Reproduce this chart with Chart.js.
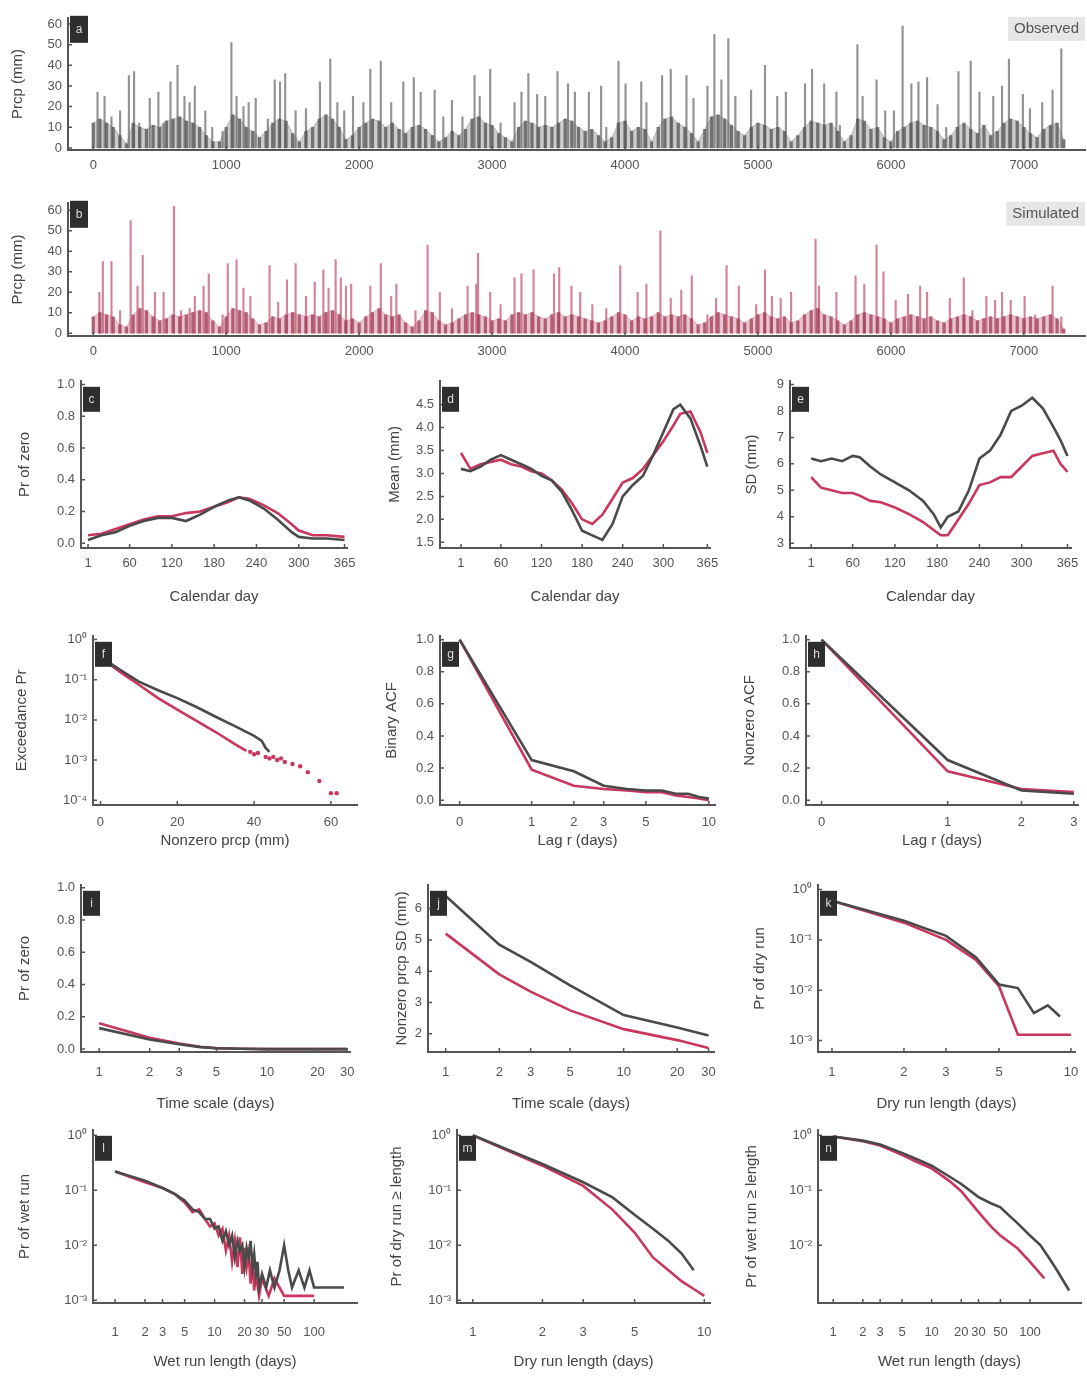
<!DOCTYPE html>
<html>
<head>
<meta charset="utf-8">
<title>Observed vs simulated precipitation</title>
<script src="https://cdn.jsdelivr.net/npm/chart.js@4.4.1/dist/chart.umd.min.js"></script>
<style>
  html, body { margin: 0; background: #fff; }
  #fig { position: relative; width: 1087px; height: 1380px; overflow: hidden; }
</style>
</head>
<body>
<div id="fig"></div>
<script>
/* Precipitation figure: panels a-n */

// ---- a/b: daily series (tall spikes + dense band, band step = 50 days) ----
const dayTicks = [0, 1000, 2000, 3000, 4000, 5000, 6000, 7000];
const prcpTicks = [0, 10, 20, 30, 40, 50, 60];
const bandStep = 50;

const obsPeakDay = [32,85,137,202,268,307,346,425,490,529,581,634,686,725,764,843,895,973,1039,1078,
  1130,1169,1222,1313,1365,1405,1444,1522,1600,1705,1783,1836,1888,1954,2032,2084,2163,2241,2332,2411,
  2463,2568,2633,2698,2777,2868,2907,2986,3064,3169,3221,3273,3339,3400,3492,3571,3623,3728,3820,3859,
  3951,4004,4122,4161,4279,4344,4462,4515,4620,4672,4725,4777,4830,4948,5053,5145,5210,5354,5407,5498,
  5590,5616,5748,5787,5892,5957,6023,6088,6154,6207,6272,6351,6416,6508,6600,6666,6770,6836,6888,6993,
  7046,7138,7216,7282];
const obsPeak = [27,25,15,18,35,37,12,24,27,12,32,40,25,22,30,18,10,8,51,25,
  20,22,24,14,33,32,36,18,19,32,43,22,18,25,22,38,42,22,32,34,
  27,28,15,23,15,35,25,38,12,22,27,36,26,25,37,31,27,27,30,10,
  42,31,32,22,35,38,35,24,30,55,33,53,25,28,40,25,27,31,38,31,
  27,11,50,25,33,18,18,59,31,32,34,21,10,37,42,27,25,30,43,26,
  19,22,28,48];
const obsBand = [
  12,14,12,10,6,2,12,10,9,11,10,13,14,15,13,12,10,6,3,3,
  10,16,14,10,8,5,8,12,14,13,7,3,8,10,14,16,14,10,4,6,
  10,12,14,13,10,12,9,7,10,11,9,6,3,5,8,6,9,14,15,12,
  11,7,5,3,10,13,12,10,11,10,12,14,13,10,8,9,6,3,5,12,
  13,8,10,9,3,10,14,15,12,10,7,3,9,15,16,14,11,8,6,10,
  12,11,9,10,8,3,6,10,13,12,11,12,8,3,6,14,13,9,10,5,
  3,8,10,12,13,11,10,8,4,6,10,12,9,7,11,6,8,12,14,13,
  10,7,5,9,11,12,4];

const simPeakDay = [46,72,137,202,281,333,372,464,529,607,660,725,764,830,869,973,1012,1078,1130,1182,
  1326,1391,1457,1522,1600,1666,1731,1770,1823,1862,1901,1940,2084,2163,2241,2280,2424,2515,2607,2698,
  2816,2881,2894,2986,3064,3169,3221,3312,3466,3505,3597,3663,3754,3859,3964,4095,4161,4266,4344,4423,
  4502,4620,4685,4764,4856,4987,5053,5105,5171,5249,5433,5459,5590,5734,5800,5892,5944,6036,6128,6220,
  6272,6443,6548,6613,6718,6784,6836,6901,7006,7085,7216,7282];
const simPeak = [20,35,35,11,55,23,38,20,20,62,11,12,18,23,29,9,34,36,22,18,
  33,15,26,34,18,25,31,22,36,27,23,24,23,34,18,24,11,43,20,12,
  23,24,39,20,14,27,29,31,29,32,23,20,14,12,33,20,24,50,17,21,
  28,9,17,33,23,14,31,18,17,20,46,23,20,28,24,43,30,16,19,23,
  20,17,27,11,18,16,20,16,18,9,23,8];
const simBand = [
  8,10,9,8,4,3,9,12,11,8,6,7,9,8,9,10,11,10,6,3,
  8,12,11,10,7,4,5,8,7,9,10,9,8,9,8,10,11,9,6,7,
  5,8,10,12,9,8,9,5,3,6,11,10,6,4,5,7,9,10,9,8,
  6,7,6,9,10,9,10,8,7,9,10,8,9,8,7,6,5,6,8,10,
  9,6,8,7,8,10,8,9,8,9,7,4,5,8,10,9,8,7,5,7,
  9,10,8,7,8,5,6,9,11,12,9,8,6,4,6,9,10,9,8,7,
  5,7,8,9,8,7,8,6,5,7,8,9,8,6,7,8,7,8,9,8,
  7,8,7,8,9,7,2];

// ---- c/d/e: calendar-day statistics ----
const calTicks = [1, 60, 120, 180, 240, 300, 365];
const probTicks = [0, 0.2, 0.4, 0.6, 0.8, 1.0];
const cDays = [1,20,40,60,80,100,120,140,160,180,200,215,230,250,270,290,300,320,340,365];
const cObs = [0.02,0.05,0.07,0.11,0.14,0.16,0.16,0.14,0.18,0.23,0.27,0.29,0.27,0.22,0.15,0.07,0.04,0.03,0.03,0.02];
const cSim = [0.05,0.06,0.09,0.12,0.15,0.17,0.17,0.19,0.20,0.23,0.26,0.29,0.28,0.24,0.19,0.12,0.08,0.05,0.05,0.04];
const meanTicks = [1.5, 2.0, 2.5, 3.0, 3.5, 4.0, 4.5];
const dDays = [1,15,30,45,60,75,90,105,120,135,150,165,180,195,210,225,240,255,270,285,300,315,325,340,355,365];
const dObs = [3.1,3.05,3.15,3.3,3.4,3.3,3.2,3.1,2.95,2.85,2.6,2.2,1.75,1.65,1.55,1.9,2.5,2.75,2.95,3.4,3.9,4.4,4.5,4.2,3.6,3.15];
const dSim = [3.45,3.1,3.2,3.25,3.3,3.2,3.15,3.05,3.0,2.85,2.65,2.35,2.0,1.9,2.1,2.45,2.8,2.9,3.1,3.4,3.7,4.05,4.3,4.35,3.9,3.45];
const sdTicks = [3, 4, 5, 6, 7, 8, 9];
const eDays = [1,15,30,45,60,70,85,100,120,140,160,175,185,195,210,225,240,255,270,285,300,315,330,345,355,365];
const eObs = [6.2,6.1,6.2,6.1,6.3,6.25,5.9,5.6,5.3,5.0,4.6,4.1,3.6,4.0,4.2,5.0,6.2,6.5,7.1,8.0,8.2,8.5,8.1,7.4,6.9,6.3];
const eSim = [5.5,5.1,5.0,4.9,4.9,4.8,4.6,4.55,4.35,4.1,3.8,3.5,3.3,3.3,3.9,4.5,5.2,5.3,5.5,5.5,5.9,6.3,6.4,6.5,6.0,5.7];

// ---- f: exceedance ----
const fxTicks = [0, 20, 40, 60];
const logTicks4 = [1, 0.1, 0.01, 0.001, 0.0001];
const fObsX = [0,2,5,10,15,20,25,30,35,40,42,43,44];
const fObs = [0.35,0.28,0.18,0.09,0.055,0.035,0.021,0.012,0.007,0.004,0.003,0.002,0.0016];
const fSimX = [0,2,5,10,15,20,25,30,35,38];
const fSim = [0.35,0.26,0.16,0.075,0.035,0.018,0.0095,0.005,0.0025,0.0017];
const fDotX = [39,40,41,43,44,45,46,47,48,50,52,54,57,60,61.5];
const fDot = [0.0016,0.0014,0.0015,0.0012,0.0011,0.0012,0.001,0.0011,0.0009,0.0008,0.0007,0.0005,0.0003,0.00015,0.00015];

// ---- g/h: autocorrelation ----
const gLagTicks = [0, 1, 2, 3, 5, 10];
const gLag = [0,1,2,3,4,5,6,7,8,9,10];
const gObs = [1.0,0.25,0.18,0.09,0.07,0.06,0.06,0.04,0.04,0.02,0.01];
const gSim = [1.0,0.19,0.09,0.07,0.06,0.05,0.05,0.03,0.02,0.01,0.0];
const hLagTicks = [0, 1, 2, 3];
const hLag = [0,1,2,3];
const hObs = [1.0,0.25,0.06,0.04];
const hSim = [1.0,0.18,0.07,0.05];

// ---- i/j: aggregation time scale ----
const scaleTicks = [1, 2, 3, 5, 10, 20, 30];
const iScale = [1,2,3,4,5,7,10,15,20,30];
const iObs = [0.13,0.06,0.03,0.012,0.005,0.002,0,0,0,0];
const iSim = [0.16,0.07,0.035,0.015,0.006,0.002,0,0,0,0];
const jyTicks = [2, 3, 4, 5, 6];
const jScale = [1,2,3,5,10,20,30];
const jObs = [6.4,4.85,4.3,3.55,2.6,2.2,1.95];
const jSim = [5.2,3.9,3.35,2.75,2.15,1.8,1.55];

// ---- k/m: dry runs, l/n: wet runs ----
const runTicks10 = [1, 2, 3, 5, 10];
const runTicks100 = [1, 2, 3, 5, 10, 20, 30, 50, 100];
const logTicks3 = [1, 0.1, 0.01, 0.001];
const logTicks2 = [1, 0.1, 0.01];
const kObsLen = [1,2,3,4,5,6,7,8,9];
const kObs = [0.6,0.24,0.12,0.045,0.013,0.011,0.0035,0.005,0.003];
const kSimLen = [1,2,3,4,5,6,7,8,9,10];
const kSim = [0.6,0.22,0.1,0.04,0.012,0.0013,0.0013,0.0013,0.0013,0.0013];
const lObsLen = [1,2,3,4,5,6,7,8,9,10,11,12,13,14,15,16,17,18,19,20,21,22,23,24,25,26,27,28,30,33,36,40,45,50,55,60,70,80,90,100,200];
const lObs = [0.22,0.15,0.11,0.085,0.065,0.045,0.04,0.03,0.03,0.02,0.022,0.012,0.018,0.01,0.015,0.006,0.012,0.008,0.01,0.004,
  0.009,0.006,0.012,0.004,0.007,0.003,0.005,0.0017,0.003,0.0017,0.0035,0.0017,0.0035,0.01,0.0035,0.0017,0.0035,0.0017,0.0035,0.0017,0.0017];
const lSimLen = [1,2,3,4,5,6,7,8,9,10,11,12,13,14,15,16,17,18,19,20,21,22,23,24,25,26,28,30,35,40,50,60,80,100];
const lSim = [0.22,0.14,0.11,0.085,0.06,0.04,0.045,0.03,0.022,0.025,0.015,0.02,0.008,0.015,0.005,0.012,0.004,0.014,0.003,0.009,
  0.004,0.007,0.002,0.006,0.0015,0.003,0.0012,0.0025,0.0012,0.0025,0.0012,0.0012,0.0012,0.0012];
const mObsLen = [1,2,3,4,5,6,7,8,9];
const mObs = [1.0,0.3,0.14,0.075,0.036,0.02,0.012,0.007,0.0035];
const mSimLen = [1,2,3,4,5,6,7,8,9,10];
const mSim = [1.0,0.28,0.12,0.045,0.017,0.006,0.0035,0.0022,0.0016,0.0012];
const nObsLen = [1,2,3,5,7,10,15,20,30,40,50,60,75,100,128,160,190,250];
const nObs = [0.95,0.8,0.68,0.48,0.37,0.28,0.18,0.13,0.075,0.058,0.049,0.036,0.025,0.015,0.01,0.0055,0.0034,0.0015];
const nSimLen = [1,2,3,5,7,10,15,20,30,40,50,75,100,140];
const nSim = [0.95,0.78,0.65,0.44,0.33,0.25,0.15,0.096,0.04,0.022,0.015,0.0087,0.005,0.0025];

const GRAY = '#4a4a4a';
const RED = '#c9375d';

Chart.defaults.font.family = "'Liberation Sans', Arial, sans-serif";
Chart.defaults.color = '#555';

const xy = (xs, ys) => xs.map((x, i) => ({ x, y: ys[i] }));
const lagU = r => Math.log10(1 + r);
const SUP = { '-': '\u207b', '0': '\u2070', '1': '\u00b9', '2': '\u00b2', '3': '\u00b3', '4': '\u2074' };
const sup = v => '10' + String(Math.round(Math.log10(v))).split('').map(c => SUP[c]).join('');
const fix1 = v => Number(v).toFixed(1);
const plain = v => String(v);

const line = (xs, ys, color) => ({
  data: xy(xs, ys), borderColor: color, borderWidth: 2.6,
  pointRadius: 0, tension: 0, fill: false
});

// inward tick marks, panel letter box, Observed/Simulated tag
const deco = {
  id: 'deco',
  afterDraw(chart, args, o) {
    const { ctx, chartArea: ca, scales } = chart;
    ctx.save();
    ctx.strokeStyle = '#555';
    ctx.lineWidth = 1.5;
    ctx.beginPath();
    scales.x.ticks.forEach((t, i) => {
      const px = scales.x.getPixelForTick(i);
      ctx.moveTo(px, ca.bottom); ctx.lineTo(px, ca.bottom - 4);
    });
    scales.y.ticks.forEach((t, i) => {
      const py = scales.y.getPixelForTick(i);
      ctx.moveTo(ca.left, py); ctx.lineTo(ca.left + 4, py);
    });
    ctx.stroke();

    if (o.letter) {
      const w = o.bw || 17, h = o.bh || 25;
      const x0 = ca.left + 2, y0 = ca.top + (o.dy ?? 6);
      ctx.fillStyle = '#2e2e2e';
      ctx.fillRect(x0, y0, w, h);
      ctx.fillStyle = '#dddddd';
      ctx.font = "12px 'Liberation Sans', Arial";
      ctx.textAlign = 'center';
      ctx.textBaseline = 'middle';
      ctx.fillText(o.letter, x0 + w / 2, y0 + h / 2);
    }
    if (o.tag) {
      ctx.font = "15px 'Liberation Sans', Arial";
      const tw = ctx.measureText(o.tag).width + 12;
      ctx.fillStyle = '#e6e6e6';
      ctx.fillRect(ca.right - tw, ca.top - 1, tw, 24);
      ctx.fillStyle = '#555';
      ctx.textAlign = 'center';
      ctx.textBaseline = 'middle';
      ctx.fillText(o.tag, ca.right - tw / 2, ca.top + 11);
    }
    ctx.restore();
  }
};

const axis = (cfg, which, size, pad) => ({
  type: cfg.type || 'linear',
  min: cfg.min,
  max: cfg.max,
  offset: false,
  afterFit: s => { if (which === 'x') s.height = size; else s.width = size; },
  afterBuildTicks: s => { s.ticks = cfg.ticks.map(v => ({ value: v })); },
  grid: { display: false, drawTicks: false },
  border: { display: true, color: '#555', width: 2 },
  ticks: {
    padding: pad, autoSkip: false, maxRotation: 0, minRotation: 0,
    color: '#555', font: { size: 13 },
    callback: v => (cfg.fmt || plain)(v)
  },
  title: { display: !!cfg.title, text: cfg.title || '', color: '#444', font: { size: 15 }, padding: 0 }
});

const panel = (p) => {
  const bx = p.box;
  const left = bx.yt - 9;
  const top = bx.t - 6;
  const right = bx.r + 20;
  const bottom = bx.xt ? bx.xt + 9 : bx.b + 26;
  const W = right - left, H = bottom - top;
  const cv = document.createElement('canvas');
  cv.width = W; cv.height = H;
  cv.style.cssText = `position:absolute;left:${left}px;top:${top}px;width:${W}px;height:${H}px`;
  document.getElementById('fig').appendChild(cv);
  new Chart(cv, {
    type: p.type || 'line',
    data: { datasets: p.datasets },
    options: {
      responsive: false,
      animation: false,
      layout: { padding: { top: 6, right: 20, left: 0, bottom: 0 } },
      plugins: {
        legend: { display: false },
        tooltip: { enabled: false },
        deco: { letter: p.letter, tag: p.tag, dy: p.dy, bw: p.bw, bh: p.bh }
      },
      scales: {
        x: axis(p.x, 'x', bottom - bx.b, bx.tp),
        y: axis(p.y, 'y', bx.l - left, 6)
      }
    },
    plugins: [deco]
  });
};

// spikes drawn as thin bars; the dense lower part as a light area plus striped bars
const seriesPanel = (box, letter, tag, peakDay, peak, band, areaColor, stripeColor, peakColor, ymin, ymax) => panel({
  type: 'bar', box, letter, tag, dy: -2, bw: 18, bh: 27,
  x: { min: -190, max: 7460, ticks: dayTicks },
  y: { min: ymin, max: ymax, ticks: prcpTicks, title: 'Prcp (mm)' },
  datasets: [
    { type: 'line', data: band.map((v, i) => ({ x: i * bandStep, y: v })),
      borderColor: areaColor, borderWidth: 1, backgroundColor: areaColor,
      fill: 'origin', pointRadius: 0, tension: 0 },
    { type: 'bar', data: band.map((v, i) => ({ x: i * bandStep, y: v })),
      backgroundColor: stripeColor, barThickness: 2.6, grouped: false },
    { type: 'bar', data: xy(peakDay, peak), backgroundColor: peakColor,
      barThickness: 1.5, grouped: false }
  ]
});

seriesPanel({ l: 68, r: 1085, t: 10, b: 150, yt: 18, tp: 8 }, 'a', 'Observed',
  obsPeakDay, obsPeak, obsBand, 'rgba(110,110,110,0.35)', 'rgba(70,70,70,0.75)', 'rgba(120,120,120,0.8)', -1, 63);
seriesPanel({ l: 68, r: 1085, t: 195, b: 336, yt: 18, tp: 8 }, 'b', 'Simulated',
  simPeakDay, simPeak, simBand, 'rgba(190,90,115,0.35)', 'rgba(140,45,70,0.75)', 'rgba(205,110,135,0.85)', -1.4, 63.7);

panel({
  box: { l: 81, r: 347, t: 373, b: 548, yt: 25, xt: 597, tp: 8 }, letter: 'c',
  x: { min: -9, max: 368.5, ticks: calTicks, title: 'Calendar day' },
  y: { min: -0.03, max: 1.024, ticks: probTicks, fmt: fix1, title: 'Pr of zero' },
  datasets: [line(cDays, cObs, GRAY), line(cDays, cSim, RED)]
});
panel({
  box: { l: 440, r: 710, t: 373, b: 548, yt: 395, xt: 597, tp: 8 }, letter: 'd',
  x: { min: -30, max: 369, ticks: calTicks, title: 'Calendar day' },
  y: { min: 1.375, max: 5.02, ticks: meanTicks, fmt: fix1, title: 'Mean (mm)' },
  datasets: [line(dDays, dObs, GRAY), line(dDays, dSim, RED)]
});
panel({
  box: { l: 790, r: 1071, t: 373, b: 548, yt: 752, xt: 597, tp: 8 }, letter: 'e',
  x: { min: -29, max: 370, ticks: calTicks, title: 'Calendar day' },
  y: { min: 2.82, max: 9.14, ticks: sdTicks, title: 'SD (mm)' },
  datasets: [line(eDays, eObs, GRAY), line(eDays, eSim, RED)]
});

panel({
  box: { l: 93, r: 357, t: 628, b: 805, yt: 22, xt: 841, tp: 10 }, letter: 'f',
  x: { min: -1.95, max: 66.8, ticks: fxTicks, title: 'Nonzero prcp (mm)' },
  y: { type: 'logarithmic', min: 7.6e-5, max: 1.245, ticks: logTicks4, fmt: sup, title: 'Exceedance Pr' },
  datasets: [
    line(fObsX, fObs, GRAY),
    line(fSimX, fSim, RED),
    { data: xy(fDotX, fDot), showLine: false, pointRadius: 2.2, pointBorderWidth: 0,
      pointBackgroundColor: RED, borderColor: RED }
  ]
});
panel({
  box: { l: 440, r: 715, t: 628, b: 805, yt: 392, xt: 841, tp: 10 }, letter: 'g',
  x: { min: -0.082, max: 1.067, ticks: gLagTicks.map(lagU), fmt: v => String(Math.round(10 ** v - 1)), title: 'Lag r (days)' },
  y: { min: -0.03, max: 1.024, ticks: probTicks, fmt: fix1, title: 'Binary ACF' },
  datasets: [line(gLag.map(lagU), gObs, GRAY), line(gLag.map(lagU), gSim, RED)]
});
panel({
  box: { l: 806, r: 1078, t: 628, b: 805, yt: 750, xt: 841, tp: 10 }, letter: 'h',
  x: { min: -0.037, max: 0.612, ticks: hLagTicks.map(lagU), fmt: v => String(Math.round(10 ** v - 1)), title: 'Lag r (days)' },
  y: { min: -0.03, max: 1.024, ticks: probTicks, fmt: fix1, title: 'Nonzero ACF' },
  datasets: [line(hLag.map(lagU), hObs, GRAY), line(hLag.map(lagU), hSim, RED)]
});

panel({
  box: { l: 81, r: 350, t: 877, b: 1052, yt: 25, xt: 1104, tp: 13 }, letter: 'i',
  x: { type: 'logarithmic', min: 0.78, max: 31.2, ticks: scaleTicks, title: 'Time scale (days)' },
  y: { min: -0.018, max: 1.018, ticks: probTicks, fmt: fix1, title: 'Pr of zero' },
  datasets: [line(iScale, iObs, GRAY), line(iScale, iSim, RED)]
});
panel({
  box: { l: 428, r: 714, t: 877, b: 1052, yt: 402, xt: 1104, tp: 13 }, letter: 'j',
  x: { type: 'logarithmic', min: 0.795, max: 32.2, ticks: scaleTicks, title: 'Time scale (days)' },
  y: { min: 1.42, max: 6.76, ticks: jyTicks, title: 'Nonzero prcp SD (mm)' },
  datasets: [line(jScale, jObs, GRAY), line(jScale, jSim, RED)]
});
panel({
  box: { l: 818, r: 1075, t: 877, b: 1052, yt: 760, xt: 1104, tp: 13 }, letter: 'k',
  x: { type: 'logarithmic', min: 0.874, max: 10.4, ticks: runTicks10, title: 'Dry run length (days)' },
  y: { type: 'logarithmic', min: 5.9e-4, max: 1.245, ticks: logTicks3, fmt: sup, title: 'Pr of dry run' },
  datasets: [line(kObsLen, kObs, GRAY), line(kSimLen, kSim, RED)]
});

panel({
  box: { l: 93, r: 357, t: 1122, b: 1303, yt: 25, xt: 1362, tp: 22 }, letter: 'l',
  x: { type: 'logarithmic', min: 0.6, max: 270, ticks: runTicks100, title: 'Wet run length (days)' },
  y: { type: 'logarithmic', min: 8.9e-4, max: 1.26, ticks: logTicks3, fmt: sup, title: 'Pr of wet run' },
  datasets: [line(lObsLen, lObs, GRAY), line(lSimLen, lSim, RED)]
});
panel({
  box: { l: 457, r: 714, t: 1122, b: 1303, yt: 397, xt: 1362, tp: 22 }, letter: 'm',
  x: { type: 'logarithmic', min: 0.855, max: 10.6, ticks: runTicks10, title: 'Dry run length (days)' },
  y: { type: 'logarithmic', min: 8.9e-4, max: 1.26, ticks: logTicks3, fmt: sup, title: 'Pr of dry run \u2265 length' },
  datasets: [line(mObsLen, mObs, GRAY), line(mSimLen, mSim, RED)]
});
panel({
  box: { l: 818, r: 1081, t: 1122, b: 1303, yt: 752, xt: 1362, tp: 22 }, letter: 'n',
  x: { type: 'logarithmic', min: 0.705, max: 330, ticks: runTicks100, title: 'Wet run length (days)' },
  y: { type: 'logarithmic', min: 8.9e-4, max: 1.26, ticks: logTicks2, fmt: sup, title: 'Pr of wet run \u2265 length' },
  datasets: [line(nObsLen, nObs, GRAY), line(nSimLen, nSim, RED)]
});
</script>
</body>
</html>
